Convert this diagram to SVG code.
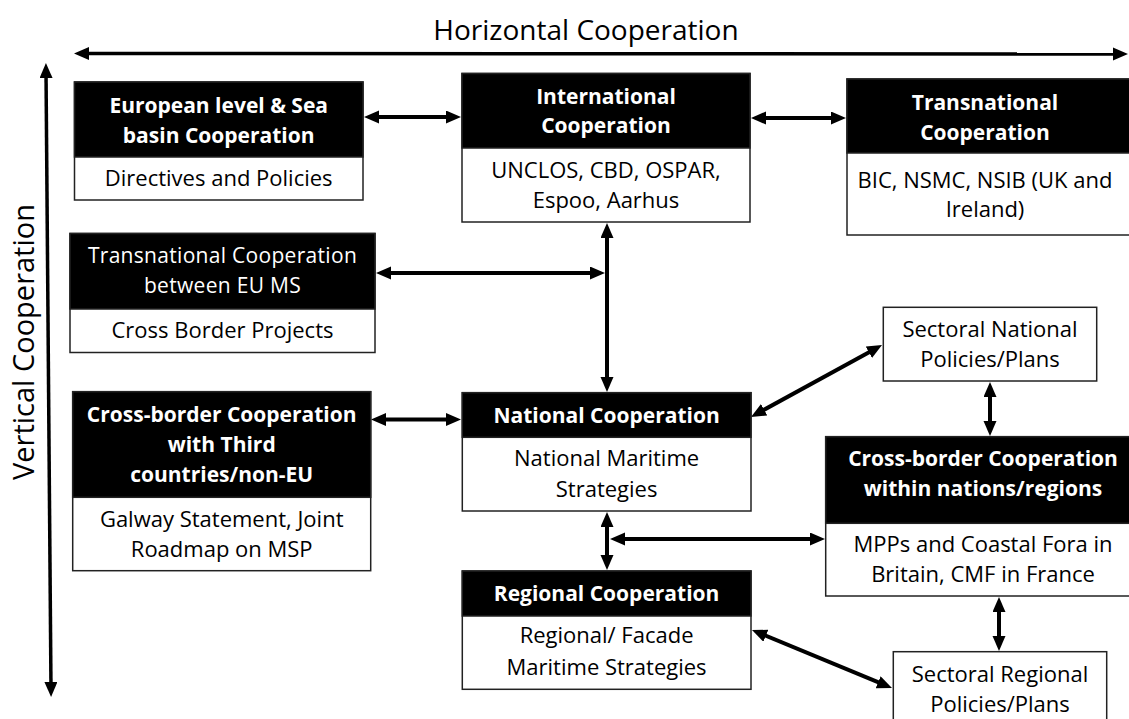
<svg xmlns="http://www.w3.org/2000/svg" width="1129" height="719" viewBox="0 0 1129 719">
  <style>
    text { font-family: "Open Sans", "Liberation Sans", sans-serif; text-anchor: middle; }
    .hd { fill: #000; stroke: #222; stroke-width: 1.5; }
    .bd { fill: #fff; stroke: #222; stroke-width: 1.5; }
    .ht { fill: #fff; font-size: 21px; font-weight: bold; }
    .hr { fill: #fff; font-size: 21px; letter-spacing: 0.3px; }
    .bt { fill: #000; font-size: 22px; }
    .axis { fill: #000; font-size: 28px; }
    .link { fill: none; stroke: #000; stroke-width: 4; marker-start: url(#tip); marker-end: url(#tip); }
    .axisline { fill: none; stroke: #000; stroke-width: 3.5; marker-start: url(#tip); marker-end: url(#tip); }
  </style>
  <defs>
    <marker id="tip" markerUnits="userSpaceOnUse" markerWidth="16" markerHeight="14" refX="7" refY="6.5" orient="auto-start-reverse">
      <path d="M0,0 L15,6.5 L0,13 z" fill="#000"/>
    </marker>
  </defs>

  <rect width="1129" height="719" fill="#fff"/>

  <!-- axes -->
  <g id="axes">
    <text class="axis" x="586" y="40">Horizontal Cooperation</text>
    <path class="axisline" d="M82,53.5 L1120,54"/>
    <text class="axis" transform="translate(34,342) rotate(-90)" style="font-size:29px">Vertical Cooperation</text>
    <path class="axisline" d="M46,71 L51,689"/>
  </g>

  <!-- connectors -->
  <g id="connectors">
    <path class="link" d="M372,117 L453,117"/>
    <path class="link" d="M759,118 L838,118"/>
    <path class="link" d="M607,231 L607,384"/>
    <path class="link" d="M384,273 L597,273"/>
    <path class="link" d="M379,419.5 L453,419.5"/>
    <path class="link" d="M875,348.9 L758,413.1"/>
    <path class="link" d="M990,390 L990,428"/>
    <path class="link" d="M607,520 L607,562"/>
    <path class="link" d="M618,539 L817,539"/>
    <path class="link" d="M999,605 L999,643"/>
    <path class="link" d="M759.4,633.1 L884.6,684.9"/>
  </g>

  <!-- European level -->
  <g id="european">
    <rect class="bd" x="74.5" y="82" width="288.5" height="118"/>
    <rect class="hd" x="74.5" y="82" width="288.5" height="75"/>
    <text class="ht" x="218.7" y="112.7">European level &amp; Sea</text>
    <text class="ht" x="218.7" y="142.7">basin Cooperation</text>
    <text class="bt" x="218.7" y="186">Directives and Policies</text>
  </g>

  <!-- International -->
  <g id="international">
    <rect class="bd" x="462" y="73.5" width="288" height="148.5"/>
    <rect class="hd" x="462" y="73.5" width="288" height="74.5"/>
    <text class="ht" x="606" y="104">International</text>
    <text class="ht" x="606" y="133">Cooperation</text>
    <text class="bt" x="606" y="178">UNCLOS, CBD, OSPAR,</text>
    <text class="bt" x="606" y="207.5">Espoo, Aarhus</text>
  </g>

  <!-- Transnational -->
  <g id="transnational">
    <rect class="bd" x="847" y="79" width="290" height="156"/>
    <rect class="hd" x="847" y="79" width="290" height="74"/>
    <text class="ht" x="985" y="110">Transnational</text>
    <text class="ht" x="985" y="140">Cooperation</text>
    <text class="bt" x="985" y="188">BIC, NSMC, NSIB (UK and</text>
    <text class="bt" x="985" y="216.7">Ireland)</text>
  </g>

  <!-- Transnational between EU MS -->
  <g id="eu-ms">
    <rect class="bd" x="70" y="233.5" width="305" height="119"/>
    <rect class="hd" x="70" y="233.5" width="305" height="75.5"/>
    <text class="hr" x="222.5" y="263.3">Transnational Cooperation</text>
    <text class="hr" x="222.5" y="293.3">between EU MS</text>
    <text class="bt" x="222.5" y="338.3">Cross Border Projects</text>
  </g>

  <!-- Cross-border with third countries -->
  <g id="third-countries">
    <rect class="bd" x="72.7" y="391.7" width="298" height="179"/>
    <rect class="hd" x="72.7" y="391.7" width="298" height="105.6"/>
    <text class="ht" x="221.7" y="421.7">Cross-border Cooperation</text>
    <text class="ht" x="221.7" y="451.7">with Third</text>
    <text class="ht" x="221.7" y="481.7">countries/non-EU</text>
    <text class="bt" x="221.7" y="526.7">Galway Statement, Joint</text>
    <text class="bt" x="221.7" y="556.7">Roadmap on MSP</text>
  </g>

  <!-- National -->
  <g id="national">
    <rect class="bd" x="462.3" y="392.7" width="288.7" height="118.3"/>
    <rect class="hd" x="462.3" y="392.7" width="288.7" height="44.6"/>
    <text class="ht" x="606.6" y="422.7">National Cooperation</text>
    <text class="bt" x="606.6" y="466">National Maritime</text>
    <text class="bt" x="606.6" y="496.7">Strategies</text>
  </g>

  <!-- Regional -->
  <g id="regional">
    <rect class="bd" x="462.3" y="571" width="288.7" height="118.3"/>
    <rect class="hd" x="462.3" y="571" width="288.7" height="45"/>
    <text class="ht" x="606.6" y="600.7">Regional Cooperation</text>
    <text class="bt" x="606.6" y="643.3">Regional/ Facade</text>
    <text class="bt" x="606.6" y="675">Maritime Strategies</text>
  </g>

  <!-- Sectoral National -->
  <g id="sectoral-national">
    <rect class="bd" x="883.3" y="307.3" width="213.4" height="73.7"/>
    <text class="bt" x="990" y="336.7">Sectoral National</text>
    <text class="bt" x="990" y="366.7">Policies/Plans</text>
  </g>

  <!-- Cross-border within nations -->
  <g id="within-nations">
    <rect class="bd" x="825.7" y="436.7" width="314" height="159.3"/>
    <rect class="hd" x="825.7" y="436.7" width="314" height="86.6"/>
    <text class="ht" x="983" y="466">Cross-border Cooperation</text>
    <text class="ht" x="983" y="496">within nations/regions</text>
    <text class="bt" x="983" y="551.7">MPPs and Coastal Fora in</text>
    <text class="bt" x="983" y="581.7">Britain, CMF in France</text>
  </g>

  <!-- Sectoral Regional -->
  <g id="sectoral-regional">
    <rect class="bd" x="893.3" y="651.7" width="213.4" height="80"/>
    <text class="bt" x="1000" y="681.7">Sectoral Regional</text>
    <text class="bt" x="1000" y="711.7">Policies/Plans</text>
  </g>
</svg>
